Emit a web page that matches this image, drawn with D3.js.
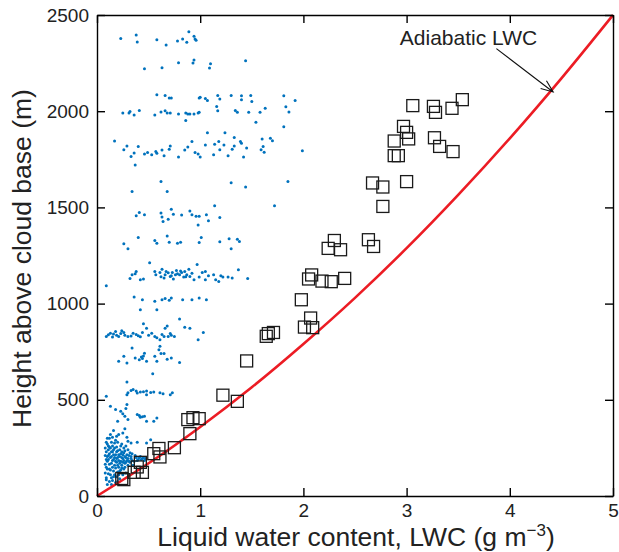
<!DOCTYPE html>
<html>
<head>
<meta charset="utf-8">
<script src="https://cdn.jsdelivr.net/npm/d3@7"></script>
<style>
  html, body { margin: 0; padding: 0; background: #fff; }
  svg { display: block; font-family: "Liberation Sans", Arial, Helvetica, sans-serif; }
</style>
</head>
<body>
<svg id="chart" width="619" height="552"></svg>
<script>
// ---------- DATA ----------
const xTicks = [0, 1, 2, 3, 4, 5];
const yTicks = [0, 500, 1000, 1500, 2000, 2500];

// Adiabatic LWC curve (LWC, height)
const adiabaticLWC    = [0, 0.5, 1, 1.5, 2, 2.5, 3, 3.5, 4, 4.5, 5];
const adiabaticHeight = [0, 170, 359, 565, 790, 1030, 1288, 1565, 1859, 2171, 2500];

// Open squares: [LWC, height]
const squarePoints = [
  [3.06,2029],[3.26,2025],[3.28,1994],[3.44,2015],[3.54,2060],[2.97,1921],[3.00,1890],
  [3.02,1856],[2.88,1845],[3.27,1862],[3.32,1817],[3.45,1790],[2.88,1769],[2.92,1769],
  [2.67,1627],[2.77,1606],[3.00,1634],[2.77,1505],[2.30,1328],[2.24,1287],[2.36,1280],
  [2.63,1332],[2.68,1297],[2.08,1149],[2.05,1128],[2.18,1117],[2.27,1114],[2.40,1131],
  [1.98,1020],[2.07,925],[2.01,878],[2.09,875],[1.66,844],[1.71,850],[1.64,830],
  [1.45,702],[1.22,524],[1.36,492],[0.88,397],[0.93,407],[0.99,402],[0.90,324],
  [0.75,251],[0.60,247],[0.55,220],[0.61,203],[0.42,175],[0.39,151],[0.44,123],
  [0.36,123],[0.24,91],[0.26,85]
];

// Blue dots: [LWC, height]
const bandTop = [
  [.23,2378],[.38,2396],[.39,2360],[.58,2372],[.67,2344],[.78,2365],[.83,2375],[.87,2358],
  [.89,2413],[.94,2389],[.95,2375],[.96,2369],
  [.46,2221],[.63,2226],[.79,2252],[.93,2250],[.94,2266],[1.09,2224],[1.10,2247],[1.44,2262]
];
const band2000 = [
  [.58,2086],[.66,2082],[.70,2068],[.72,2068],[.99,2068],[1.00,2073],[1.05,2066],[1.07,2056],
  [1.17,2082],[1.19,2064],[1.30,2082],[1.40,2080],[1.40,2059],[1.49,2082],[1.50,2050],
  [1.81,2080],[1.92,2055],[1.83,2023],[1.86,1996],[1.16,2025],[1.17,2002],[1.63,2015],
  [1.58,1994],[1.34,2004],[1.36,1994],[1.47,1994],[.25,1991],[.31,1991],[.32,1998],
  [.36,1980],[.41,2004],[.56,1980],[.62,1996],[.66,2002],[.68,1991],[.71,1991],[.79,1986],
  [.86,1991],[.88,1986],[.90,1986],[.94,1986],[.98,1991],[.99,1994],[.86,1952],[1.54,1943],
  [1.81,1919]
];
const band1800 = [
  [.17,1845],[1.07,1888],[1.24,1888],[1.33,1863],[1.60,1855],[1.68,1860],[1.70,1846],
  [1.99,1795],[.26,1800],[.29,1819],[.40,1816],[.33,1764],[.36,1783],[.37,1720],[.46,1778],
  [.49,1785],[.53,1774],[.57,1790],[.58,1781],[.63,1798],[.65,1769],[.70,1802],[.71,1819],
  [.79,1762],[.85,1798],[.88,1814],[.92,1842],[.95,1785],[.98,1778],[1.00,1762],[1.05,1824],
  [1.13,1774],[1.14,1828],[1.18,1842],[1.19,1800],[1.23,1824],[1.27,1768],[1.31,1802],
  [1.33,1819],[1.39,1842],[1.40,1833],[1.42,1762],[1.45,1809],[1.59,1800],[1.61,1816],
  [1.62,1787],
  [.62,1635],[1.30,1628],[1.44,1606],[1.85,1635],[.34,1583],[.68,1583],[1.72,1509]
];
const band1400 = [
  [.38,1457],[.41,1474],[.46,1462],[.62,1471],[.63,1450],[.64,1427],[.69,1439],[.72,1491],
  [.74,1464],[.82,1460],[.90,1481],[.92,1462],[.96,1454],[.99,1454],[1.06,1462],[1.08,1431],
  [1.14,1508],[1.19,1448],[.98,1408],
  [.26,1311],[.30,1285],[.40,1344],[.56,1328],[.58,1314],[.68,1352],[.70,1319],[.78,1314],
  [.81,1319],[.99,1317],[1.01,1344],[1.19,1321],[1.28,1337],[1.30,1285],[1.36,1335],[1.38,1323]
];
const band1150 = [
  [.09,1093],[.32,1131],[.34,1150],[.37,1155],[.38,1167],[.42,1124],[.45,1128],[.51,1212],
  [.56,1167],[.61,1162],[.63,1179],[.65,1133],[.66,1150],[.67,1167],[.71,1141],[.73,1162],
  [.74,1128],[.76,1150],[.77,1172],[.80,1150],[.82,1162],[.84,1138],[.85,1167],[.87,1150],
  [.89,1179],[.90,1141],[.92,1158],[.94,1124],[.97,1203],[.99,1138],[1.02,1162],[1.05,1167],
  [1.05,1124],[1.08,1145],[1.13,1150],[1.15,1124],[1.18,1115],[1.20,1145],[1.22,1138],
  [1.27,1138],[1.31,1133],[1.37,1176],[1.46,1131],[.78,1155],[.72,1145],[.62,1140],
  [.57,1150],[.86,1140],[.81,1170],[.69,1160],
  [.36,1034],[.44,1020],[.42,968],[.56,1012],[.58,968],[.63,1020],[.66,1027],[.70,1017],
  [.72,1029],[.83,1020],[.92,1020],[.99,1029],[1.06,1020]
];
const band800 = [
  [.09,829],[.13,846],[.18,855],[.21,829],[.24,859],[.27,836],[.30,829],[.35,846],[.40,833],
  [.44,850],[.45,895],[.48,872],[.53,846],[.56,829],[.61,812],[.65,829],[.66,872],[.68,884],
  [.69,829],[.72,836],[.75,829],[.80,920],[.85,877],[.90,872],[.98,812],[1.03,850],
  [.11,838],[.15,826],[.16,842],[.19,836],[.23,845],[.26,850],[.33,832],[.38,840],[.42,828],
  [.50,836],[.58,822],[.63,840],[.71,845],
  [.21,700],[.26,726],[.29,691],[.34,769],[.37,717],[.41,708],[.45,728],[.46,742],[.48,700],
  [.56,726],[.58,700],[.61,778],[.65,740],[.68,711],[.72,717],[.80,694],[.54,636],
  [.44,715],[.43,722],[.60,760],[.62,740]
];
const band500 = [
  [.09,518],[.29,593],[.30,537],[.35,554],[.38,546],[.42,540],[.48,546],[.55,540],[.61,537],
  [.73,537],[.29,526],[.39,535],[.48,526],[.64,531],[.71,526],[.33,548],[.45,542],[.52,538],
  [.13,466],[.29,475],[.18,449],[.23,440],[.27,414],[.30,397],[.20,388],[.39,423],[.42,409],
  [.46,414],[.48,388],[.55,388],[.58,406],[.41,418],[.44,412],[.25,428],[.28,455],
  [.25,327],[.30,284],[.33,275],[.39,279],[.48,275],[.52,292],[.27,350],[.29,305]
];
const bandBase = [
  [.08,120],[.09,150],[.10,180],[.08,210],[.11,240],[.09,95],[.12,75],[.10,60],[.13,110],
  [.12,140],[.14,170],[.13,200],[.15,230],[.11,260],[.14,280],[.16,130],[.17,160],[.16,190],
  [.18,215],[.17,250],[.19,100],[.20,125],[.21,150],[.19,175],[.22,205],[.20,235],[.23,180],
  [.24,160],[.25,195],[.23,220],[.26,140],[.27,170],[.28,200],[.26,225],[.29,185],[.30,160],
  [.31,210],[.32,175],[.33,195],[.34,220],[.36,180],[.38,200],[.40,190],[.42,205],[.44,195],
  [.46,185],[.35,160],[.30,240],[.28,260],[.24,270],[.18,290],[.15,305],[.21,320],[.12,300],
  [.10,270],[.09,85],[.15,80],[.18,70],[.22,90],[.25,110],[.28,120],[.20,280],
  [.08,165],[.09,230],[.10,205],[.11,115],[.11,190],[.12,220],[.12,165],[.13,250],[.13,135],
  [.14,95],[.14,205],[.15,150],[.15,185],[.16,215],[.16,240],[.17,110],[.17,200],[.18,145],
  [.18,180],[.19,230],[.19,255],[.20,160],[.20,200],[.21,110],[.21,185],[.22,170],[.22,240],
  [.23,135],[.23,260],[.24,200],[.24,230],[.25,175],[.25,215],[.26,185],[.27,205],[.27,235],
  [.28,175],[.29,215],[.30,195],[.31,180],[.32,225],[.33,205],[.34,185],[.37,210],[.39,185],
  [.41,200],[.43,190],[.45,200],[.47,195],[.10,300],[.13,320],[.16,340],[.19,310],
  [.08,250],[.09,280],[.11,210],[.12,255],[.14,230],[.15,260],[.17,275],[.19,195],[.21,215],
  [.22,130],[.24,145],[.26,250],[.10,140],[.09,190],[.16,100],[.20,75],[.14,60],[.27,150]
];

// ---------- LAYOUT ----------
const svg = d3.select("#chart");
const margin = { left: 97, right: 6, top: 15, bottom: 56 };
const W = 619, H = 552;
const x = d3.scaleLinear().domain([0, 5]).range([margin.left, W - margin.right]);
const y = d3.scaleLinear().domain([0, 2500]).range([H - margin.bottom, margin.top]);

// blue dots
const allDots = [].concat(bandTop, band2000, band1800, band1400, band1150, band800, band500, bandBase);
svg.append("g").selectAll("circle").data(allDots).join("circle")
  .attr("cx", d => x(d[0])).attr("cy", d => y(d[1]))
  .attr("r", 1.5).attr("fill", "#0072BD");

// adiabatic curve
const curveData = adiabaticLWC.map((v, i) => [v, adiabaticHeight[i]]);
svg.append("path").datum(curveData)
  .attr("fill", "none").attr("stroke", "#ec1c24").attr("stroke-width", 2.6)
  .attr("d", d3.line().x(d => x(d[0])).y(d => y(d[1])).curve(d3.curveMonotoneX));

// squares
const sq = 12;
svg.append("g").selectAll("rect").data(squarePoints).join("rect")
  .attr("x", d => x(d[0]) - sq / 2).attr("y", d => y(d[1]) - sq / 2)
  .attr("width", sq).attr("height", sq)
  .attr("fill", "none").attr("stroke", "#1a1a1a").attr("stroke-width", 1.3);

// axes
const tickLen = 8;
function styleAxis(g) {
  g.selectAll("path.domain").attr("stroke", "#000").attr("stroke-width", 1.4);
  g.selectAll(".tick line").attr("stroke", "#000").attr("stroke-width", 1.4);
  g.selectAll("text").attr("font-size", 19).attr("fill", "#222")
    .attr("font-family", "'Liberation Sans', Arial, Helvetica, sans-serif");
}
svg.append("g").attr("transform", `translate(0,${y(0)})`)
  .call(d3.axisBottom(x).tickValues(xTicks).tickSize(-tickLen).tickSizeOuter(0).tickPadding(8).tickFormat(d3.format("d")))
  .call(styleAxis);
svg.append("g").attr("transform", `translate(0,${y(2500)})`)
  .call(d3.axisTop(x).tickValues(xTicks).tickSize(-tickLen).tickSizeOuter(0).tickFormat(""))
  .call(styleAxis);
svg.append("g").attr("transform", `translate(${x(0)},0)`)
  .call(d3.axisLeft(y).tickValues(yTicks).tickSize(-tickLen).tickSizeOuter(0).tickPadding(8).tickFormat(d3.format("d")))
  .call(styleAxis);
svg.append("g").attr("transform", `translate(${x(5)},0)`)
  .call(d3.axisRight(y).tickValues(yTicks).tickSize(-tickLen).tickSizeOuter(0).tickFormat(""))
  .call(styleAxis);

// axis labels
const xl = svg.append("text")
  .attr("x", (x(0) + x(5)) / 2 + 1).attr("y", 546)
  .attr("text-anchor", "middle").attr("font-size", 26.5).attr("fill", "#222");
xl.append("tspan").text("Liquid water content, LWC (g m");
xl.append("tspan").attr("font-size", 17).attr("dy", -10).text("−3");
xl.append("tspan").attr("dy", 10).text(")");

svg.append("text")
  .attr("transform", `translate(31,${(y(0) + y(2500)) / 2 + 3}) rotate(-90)`)
  .attr("text-anchor", "middle").attr("font-size", 26.5).attr("fill", "#222")
  .text("Height above cloud base (m)");

// annotation
svg.append("text")
  .attr("x", x(3.6)).attr("y", y(2345))
  .attr("text-anchor", "middle").attr("font-size", 21).attr("fill", "#222")
  .text("Adiabatic LWC");

const a0 = [x(3.87), y(2325)], a1 = [x(4.42), y(2100)];
const ang = Math.atan2(a1[1] - a0[1], a1[0] - a0[0]);
const hl = 13, hw = 0.38;
svg.append("path")
  .attr("d", `M${a0[0]},${a0[1]}L${a1[0]},${a1[1]}` +
    `M${a1[0] - hl * Math.cos(ang - hw)},${a1[1] - hl * Math.sin(ang - hw)}L${a1[0]},${a1[1]}` +
    `L${a1[0] - hl * Math.cos(ang + hw)},${a1[1] - hl * Math.sin(ang + hw)}`)
  .attr("fill", "none").attr("stroke", "#111").attr("stroke-width", 1.1);
</script>
</body>
</html>
